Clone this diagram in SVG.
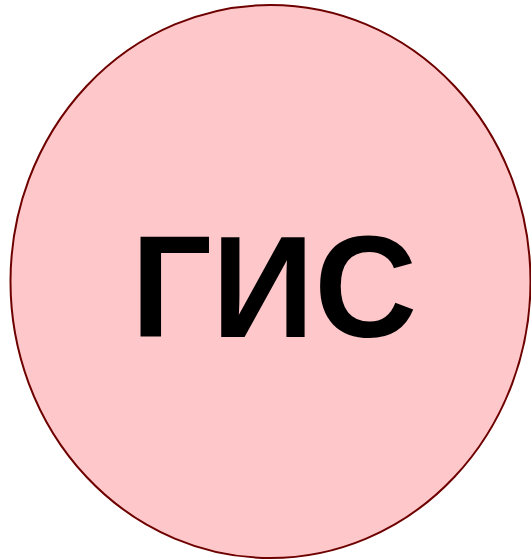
<svg xmlns="http://www.w3.org/2000/svg" width="531" height="560" viewBox="0 0 531 560">
<style>
.node-shape{fill:#FEC8CB;stroke:#6E0000;stroke-width:2}
.label{font-family:"Liberation Sans",Arial,sans-serif;font-weight:bold;font-size:144px;fill:#000}
</style>
<rect width="531" height="560" fill="#fff"/>
<g id="connectors"/>
<g id="node-gis">
<ellipse class="node-shape" cx="270.5" cy="281.5" rx="260" ry="276.5"/>
<text class="label" x="274" y="337" text-anchor="middle" textLength="286" lengthAdjust="spacingAndGlyphs">ГИС</text>
</g>
</svg>
